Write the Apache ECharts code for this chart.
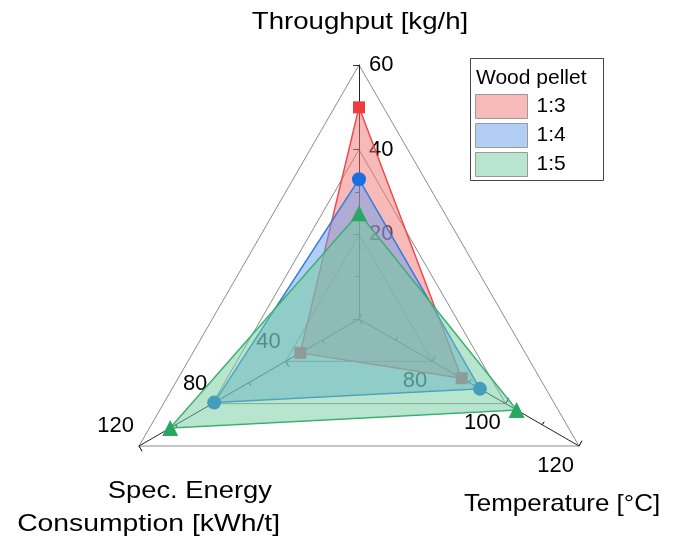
<!DOCTYPE html>
<html>
<head>
<meta charset="utf-8">
<script src="https://cdn.jsdelivr.net/npm/echarts@6/dist/echarts.min.js"></script>
<style>
  html, body { margin: 0; padding: 0; background: #fff; }
  #chart { width: 685px; height: 537px; }
</style>
</head>
<body>
<div id="chart"></div>
<script>
// Radar axes: throughput (top), specific energy consumption (lower left), temperature (lower right)
const axisNames = ['Throughput [kg/h]', 'Spec. Energy Consumption [kWh/t]', 'Temperature [°C]'];
const axisMin = [0, 0, 60];
const axisMax = [60, 120, 120];

// Wood pellet mixing ratios
const seriesNames = ['1:3', '1:4', '1:5'];
const ratio13 = [50, 32, 88];
const ratio14 = [33, 79, 93];
const ratio15 = [25, 103, 103];
const legendTitle = 'Wood pellet';

const values = [ratio13, ratio14, ratio15];
const lineColors = ['#ee3b3b', '#1a6fe0', '#2aa862'];
const fillColors = ['rgba(241,115,115,0.5)', 'rgba(101,157,235,0.5)', 'rgba(111,203,155,0.5)'];
const legendColors = ['#f8b9b9', '#b2cef5', '#b7e5cd'];
const symbols = ['rect', 'circle', 'triangle'];
const symbolSizes = [12, 14, 16];

const FONT = '"Liberation Sans", Arial, Helvetica, sans-serif';
const center = [359, 319];
const radius = 254;

// tick labels sit on the clockwise side of each spoke
const labelPlacement = [
  { align: 'left', verticalAlign: 'middle' },
  { align: 'right', verticalAlign: 'bottom' },
  { align: 'right', verticalAlign: 'top' }
];

const minorTick = { show: true, splitNumber: 2, length: 3.5, lineStyle: { color: '#333', width: 1 } };

const chart = echarts.init(document.getElementById('chart'), null, { renderer: 'canvas' });

chart.setOption({
  animation: false,
  backgroundColor: '#fff',
  radar: [
    {
      center: center,
      radius: radius,
      startAngle: 90,
      splitNumber: 3,
      shape: 'polygon',
      indicator: axisNames.map((n, i) => ({
        name: n, min: axisMin[i], max: axisMax[i],
        axisLabel: Object.assign({ margin: -10 }, labelPlacement[i]),
        minorTick: minorTick
      })),
      axisName: { show: false },
      axisLine: { show: true, lineStyle: { color: '#222', width: 1 } },
      splitLine: { show: true, lineStyle: { color: '#8c8c8c', width: 1 } },
      splitArea: { show: false },
      axisTick: { show: true, inside: false, length: 6, lineStyle: { color: '#333', width: 1 } },
      axisLabel: {
        show: true, showMinLabel: false,
        fontSize: 22, color: '#000', fontFamily: FONT
      }
    },
    {
      // second pass over the same axes so the ticks cross both sides of each spoke
      center: center,
      radius: radius,
      startAngle: 90,
      splitNumber: 3,
      shape: 'polygon',
      indicator: axisNames.map((n, i) => ({
        name: n, min: axisMin[i], max: axisMax[i], minorTick: minorTick
      })),
      axisName: { show: false },
      axisLine: { show: false },
      splitLine: { show: false },
      splitArea: { show: false },
      axisTick: { show: true, inside: true, length: 6, lineStyle: { color: '#333', width: 1 } },
      axisLabel: { show: false }
    }
  ],
  legend: {
    orient: 'vertical',
    left: 475,
    top: 94,
    padding: 0,
    itemWidth: 52,
    itemHeight: 24,
    itemGap: 4,
    icon: 'rect',
    selectedMode: false,
    textStyle: { fontSize: 21, color: '#000', fontFamily: FONT, padding: [0, 0, 0, 4] },
    data: seriesNames.map((n, i) => ({
      name: n,
      itemStyle: { color: legendColors[i], borderColor: '#9a9a9a', borderWidth: 1 }
    }))
  },
  graphic: [
    {
      type: 'rect',
      shape: { x: 470.5, y: 58.5, width: 133, height: 122 },
      style: { fill: 'none', stroke: '#444', lineWidth: 1 },
      z: 10
    },
    {
      type: 'text', x: 476, y: 78,
      style: { text: legendTitle, font: '21px ' + FONT, fill: '#000', verticalAlign: 'middle', align: 'left' },
      z: 10
    },
    {
      type: 'text', x: 360, y: 22, scaleX: 1.15,
      style: { text: axisNames[0], font: '24px ' + FONT, fill: '#000', align: 'center', verticalAlign: 'middle' }
    },
    {
      type: 'text', x: 272, y: 491, scaleX: 1.14,
      style: { text: 'Spec. Energy', font: '24px ' + FONT, fill: '#000', align: 'right', verticalAlign: 'middle' }
    },
    {
      type: 'text', x: 280, y: 524, scaleX: 1.18,
      style: { text: 'Consumption [kWh/t]', font: '24px ' + FONT, fill: '#000', align: 'right', verticalAlign: 'middle' }
    },
    {
      type: 'text', x: 562, y: 504, scaleX: 1.08,
      style: { text: axisNames[2], font: '24px ' + FONT, fill: '#000', align: 'center', verticalAlign: 'middle' }
    }
  ],
  // each later series (area, outline and markers) is layered above the earlier ones
  series: seriesNames.map((n, i) => ({
    type: 'radar',
    radarIndex: 0,
    name: n,
    z: 2 + i,
    symbol: symbols[i],
    symbolSize: symbolSizes[i],
    data: [{ name: n, value: values[i] }],
    lineStyle: { color: lineColors[i], width: 1.5 },
    itemStyle: { color: lineColors[i] },
    areaStyle: { color: fillColors[i], opacity: 1 }
  }))
});
</script>
</body>
</html>
